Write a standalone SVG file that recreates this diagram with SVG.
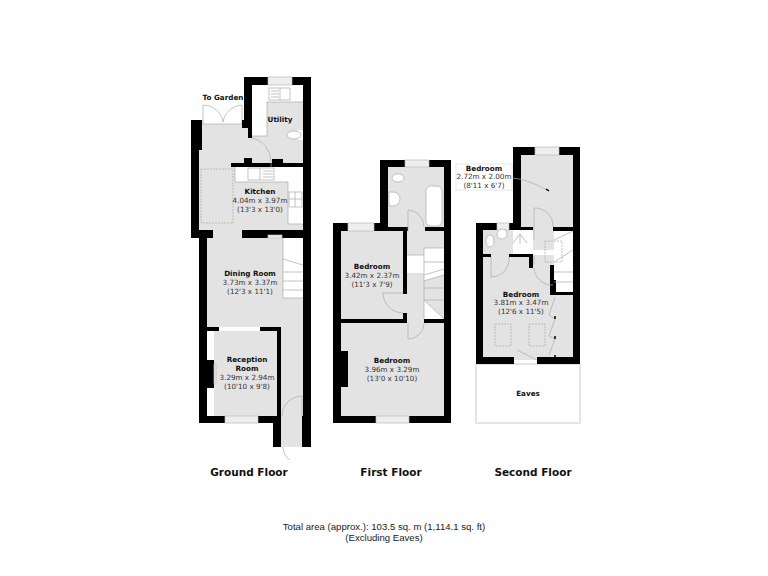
<svg xmlns="http://www.w3.org/2000/svg" width="768" height="576" viewBox="0 0 768 576">
<style>
text{font-family:"DejaVu Sans",sans-serif;font-size:7.2px;text-anchor:middle;fill:#333}
.b{font-weight:bold;fill:#111}
.t{font-weight:bold;font-size:10.5px;fill:#111}
.n{font-family:"Liberation Sans",sans-serif;font-size:9.6px;fill:#222}
.f{fill:#e3e3e3}
.w{fill:#000}
.o{fill:#fff}
.l{fill:none;stroke:#aaa;stroke-width:.7}
.s{stroke:#aaa;stroke-width:.7}
.d{fill:none;stroke:#aaa;stroke-width:.7;stroke-dasharray:2 1}
.win{fill:#eee;stroke:#bbb;stroke-width:.7}
</style>
<rect width="768" height="576" fill="#fff"/>
<g id="ground-floor">
<path class="f" d="M252 85H303V238H311V416H281V327H207V238H199V150H202V120H248V138H252Z"/>
<rect class="f" x="281" y="416" width="21" height="31"/>
<rect class="f" x="214" y="331" width="63" height="85"/>
<path class="o" d="M252 85H303V102H267V136H252Z"/>
<rect class="o" x="298" y="130" width="5" height="10"/>
<path class="o" d="M235 167H303V224H288V182H235Z"/>
<rect class="o" x="283" y="238" width="20" height="60"/>
<rect class="o" x="207" y="331" width="7" height="85"/>
<rect class="o" x="203" y="105" width="39" height="19"/>
<path class="l" d="M203 124V105A20 20 0 0 1 223 122M242 124V105A20 20 0 0 0 223 122M203 124H242"/>
<g class="w">
<rect x="244" y="77" width="67" height="8"/><rect x="244" y="77" width="8" height="51"/><rect x="242" y="120" width="8" height="8"/><rect x="248" y="128" width="4" height="10"/>
<rect x="303" y="77" width="8" height="370"/><rect x="302" y="416" width="9" height="31"/>
<rect x="231" y="163" width="72" height="4"/><rect x="244" y="158" width="8" height="9"/><rect x="272" y="159" width="11" height="8"/>
<rect x="191" y="120" width="11" height="30"/><rect x="191" y="150" width="8" height="88"/><rect x="191" y="230" width="22" height="8"/><rect x="242" y="230" width="69" height="8"/>
<rect x="199" y="238" width="8" height="185"/><rect x="199" y="416" width="26" height="7"/><rect x="258" y="416" width="23" height="7"/>
<rect x="207" y="327" width="12" height="4"/><rect x="260" y="327" width="21" height="4"/><rect x="277" y="327" width="4" height="89"/><rect x="207" y="360" width="7" height="28"/>
<rect x="273" y="416" width="8" height="31"/>
</g>
<rect class="win" x="268" y="77" width="24" height="8"/>
<rect class="win" x="225" y="416" width="33" height="7"/>
<rect class="win" x="268" y="235" width="14" height="3"/>
<rect class="win" x="214" y="364" width="2" height="20"/>
<path class="l" d="M252 138A24 24 0 0 1 271 162V167M282 416A20 20 0 0 1 302 396V416M283 447A17 17 0 0 0 290 460"/>
<path class="l" d="M267 102H303M267 102V136M252 136H267M235 182H288V224H303M235 167V182M283 238V298H303M283 259L303 265M283 272H303M283 281H303M283 290H303"/>
<rect class="d" x="201" y="169" width="32" height="54"/>
<rect class="o s" x="269" y="88" width="21" height="12"/>
<path class="l" d="M280 88V100M271 91H279M271 94H279M271 97H279"/>
<ellipse class="o s" cx="294" cy="135" rx="7" ry="4"/>
<rect class="o s" x="248" y="168" width="26" height="12"/>
<path class="l" d="M260 168V180M263 171H273M263 174H273M263 177H273"/>
<rect class="o s" x="289" y="192" width="13" height="15"/>
<path class="l" d="M289 199H302M295 192V207"/>
<text class="b" x="223" y="100">To Garden</text>
<text class="b" x="280" y="122">Utility</text>
<text class="b" x="260" y="194">Kitchen</text>
<text x="260" y="203">4.04m x 3.97m</text>
<text x="260" y="212">(13'3 x 13'0)</text>
<text class="b" x="250" y="276">Dining Room</text>
<text x="250" y="285">3.73m x 3.37m</text>
<text x="250" y="294">(12'3 x 11'1)</text>
<text class="b" x="247" y="362">Reception</text>
<text class="b" x="247" y="371">Room</text>
<text x="247" y="380">3.29m x 2.94m</text>
<text x="247" y="389">(10'10 x 9'8)</text>
<text class="t" x="249" y="476">Ground Floor</text>
</g>
<g id="first-floor">
<path class="f" d="M388 167H444V416H341V231H388Z"/>
<path class="o" d="M424 248H444V275L424 281V275H407V255H424Z"/>
<path class="o" d="M424 300L444 319H424Z"/>
<g class="w">
<rect x="380" y="160" width="71" height="7"/><rect x="380" y="160" width="8" height="71"/><rect x="444" y="160" width="7" height="263"/>
<rect x="333" y="223" width="55" height="8"/><rect x="333" y="223" width="8" height="200"/><rect x="333" y="416" width="118" height="7"/>
<rect x="333" y="319" width="74" height="4"/><rect x="424" y="319" width="27" height="4"/>
<rect x="403" y="231" width="4" height="63"/><rect x="403" y="313" width="4" height="10"/>
<rect x="388" y="227" width="20" height="4"/><rect x="425" y="227" width="26" height="4"/>
<rect x="333" y="351" width="15" height="36"/>
</g>
<rect class="win" x="405" y="160" width="24" height="7"/>
<rect class="win" x="348" y="223" width="26" height="8"/>
<rect class="win" x="376" y="416" width="33" height="7"/>
<path class="l" d="M424 248V319M424 248H444M424 255H407M407 274H424M424 275L444 269M424 281L444 275M424 288H444M424 300H444M424 300L444 319M424 262H444"/>
<path class="l" d="M408 210A17 17 0 0 1 424 227M408 210V231M383 293A20 20 0 0 0 403 313M383 293H403M408 339A16 16 0 0 0 424 323M408 323V339"/>
<rect class="o s" x="426" y="186" width="16" height="40" rx="5"/>
<ellipse class="o s" cx="398" cy="178" rx="6" ry="4"/>
<path class="o s" d="M389 192H393A7 7 0 0 1 393 206H389Z"/>
<text class="b" x="372" y="269">Bedroom</text>
<text x="372" y="278">3.42m x 2.37m</text>
<text x="372" y="287">(11'3 x 7'9)</text>
<text class="b" x="392" y="363">Bedroom</text>
<text x="392" y="372">3.96m x 3.29m</text>
<text x="392" y="381">(13'0 x 10'10)</text>
<text class="t" x="391" y="476">First Floor</text>
</g>
<g id="second-floor">
<rect x="476" y="364" width="104" height="59" fill="#fff" stroke="#ccc"/>
<path class="f" d="M521 155H573V357H483V230H521Z"/>
<path class="o" d="M513 230H533V250H573V255H533V254H513Z"/>
<rect class="o" x="554" y="231" width="19" height="61"/>
<rect class="f" x="514" y="357" width="23" height="3"/>
<g class="w">
<rect x="513" y="147" width="67" height="8"/><rect x="513" y="147" width="8" height="83"/><rect x="573" y="147" width="7" height="217"/>
<rect x="553" y="227" width="27" height="4"/><rect x="521" y="227" width="12" height="3"/>
<rect x="476" y="223" width="7" height="141"/><rect x="476" y="223" width="21" height="7"/><rect x="509" y="223" width="12" height="7"/>
<rect x="476" y="254" width="15" height="3"/><rect x="509" y="254" width="24" height="3"/><rect x="529" y="254" width="4" height="14"/>
<rect x="550" y="265" width="4" height="30"/><rect x="551" y="280" width="5" height="15"/><rect x="551" y="292" width="24" height="3"/>
<rect x="476" y="357" width="38" height="7"/><rect x="537" y="357" width="43" height="7"/>
</g>
<rect class="win" x="535" y="147" width="24" height="8"/>
<rect class="win" x="497" y="223" width="12" height="7"/>
<rect class="d" x="545" y="241" width="17" height="21"/>
<path class="l" d="M554 240L573 231M554 262L573 250M554 272H573M554 282H573"/>
<path class="l" d="M534 208V240M534 208A18 18 0 0 1 553 227M534 265V256M534 268A18 18 0 0 0 553 285M491 257V277A18 18 0 0 0 509 257"/>
<ellipse class="o s" cx="490" cy="241" rx="4" ry="6"/>
<circle class="o s" cx="502" cy="234" r="5"/>
<path class="l" d="M513 243L520 234L527 243M520 234V244"/>
<path class="l" d="M512 178C525 179 535 184 547 190"/>
<path d="M546 189L549 191" stroke="#000" stroke-width="1.5"/>
<path class="l" d="M555 297L549 315L555 319L549 336L555 339L549 355M517 350L537 360"/>
<path d="M555 316V319M555 336V339M555 355V357" stroke="#000" stroke-width="1.5"/>
<rect class="d" x="495" y="324" width="16" height="22"/>
<rect class="d" x="529" y="324" width="16" height="22"/>
<rect x="456" y="164" width="56" height="26" fill="#fff" stroke="#ddd" stroke-width=".7"/>
<text class="b" x="484" y="171">Bedroom</text>
<text x="484" y="179">2.72m x 2.00m</text>
<text x="484" y="188">(8'11 x 6'7)</text>
<text class="b" x="521" y="297">Bedroom</text>
<text x="521" y="305">3.81m x 3.47m</text>
<text x="521" y="314">(12'6 x 11'5)</text>
<text class="b" x="528" y="396">Eaves</text>
<text class="t" x="533" y="476">Second Floor</text>
</g>
<g id="summary">
<text class="n" x="384" y="530">Total area (approx.): 103.5 sq. m (1,114.1 sq. ft)</text>
<text class="n" x="384" y="541">(Excluding Eaves)</text>
</g>
<g id="connectors"/>
</svg>
